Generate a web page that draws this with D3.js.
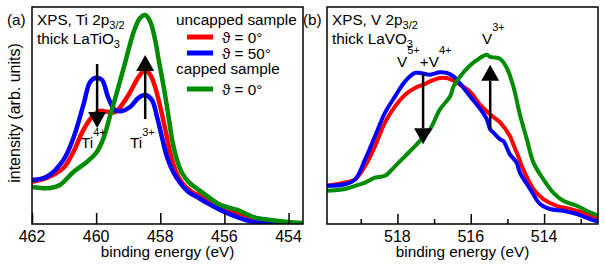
<!DOCTYPE html>
<html>
<head>
<meta charset="utf-8">
<script src="https://cdn.jsdelivr.net/npm/d3@7"></script>
<style>
  body { margin: 0; background: #fff; }
  svg text { font-family: "Liberation Sans", Arial, sans-serif; fill: #000; }
</style>
</head>
<body>
<div id="graph"></div>
<script>
// binding energy (eV), intensity (arb. units)
var tiRed = [[462.0,19.4],[461.54,21.2],[461.02,25.8],[460.71,33.2],[460.40,43.3],[460.13,49.3],[459.88,52.1],[459.62,51.6],[459.41,51.6],[459.20,54.8],[458.94,60.8],[458.68,67.7],[458.47,71.0],[458.31,68.7],[458.16,63.1],[458.00,53.9],[457.84,43.3],[457.69,32.7],[457.53,24.9],[457.32,18.9],[457.01,14.7],[456.66,12.4],[456.13,7.8],[455.60,5.1],[455.09,2.8],[454.56,1.4],[454.03,0.5],[453.56,0]];
var tiBlue = [[462.0,20.3],[461.54,21.8],[461.02,29.5],[460.71,39.6],[460.40,54.8],[460.19,65.4],[460.03,67.3],[459.82,66.4],[459.62,58.1],[459.41,52.5],[459.20,52.1],[458.94,53.9],[458.68,58.1],[458.47,59.4],[458.26,57.1],[458.10,49.3],[457.95,40.1],[457.79,30.9],[457.58,23.5],[457.38,18.9],[457.12,14.7],[456.80,12.0],[456.59,10.1],[456.13,6.5],[455.60,3.2],[455.09,0.9],[454.56,0],[453.56,0]];
var tiGreen = [[462.0,17.1],[461.44,16.6],[461.13,18.0],[460.71,24.0],[460.29,28.6],[459.98,33.2],[459.77,39.6],[459.56,50.2],[459.35,60.8],[459.09,74.7],[458.83,88.5],[458.63,94.9],[458.47,96.3],[458.31,93.1],[458.16,84.8],[458.05,75.6],[457.95,67.7],[457.84,58.5],[457.74,49.3],[457.63,38.7],[457.48,29.5],[457.32,23.5],[457.12,19.4],[456.80,15.7],[456.59,13.4],[456.13,8.8],[455.60,6.5],[455.09,3.2],[454.56,1.8],[454.03,0.9],[453.56,0.5]];

var vRed = [[519.92,17.6],[519.43,19.1],[519.15,20.6],[518.88,26.7],[518.61,35.9],[518.34,46.7],[518.06,54.3],[517.79,59.6],[517.52,62.7],[517.29,64.2],[517.11,65.7],[516.84,67.3],[516.56,66.8],[516.29,64.2],[516.02,61.0],[515.75,55.0],[515.47,50.5],[515.20,46.8],[514.93,40.4],[514.84,36.7],[514.70,31.0],[514.57,25.2],[514.29,16.1],[514.02,11.5],[513.66,8.4],[513.29,6.9],[512.84,4.6],[512.52,2.3]];
var vBlue = [[519.92,17.6],[519.43,18.3],[519.15,20.6],[518.88,29.8],[518.61,40.5],[518.34,51.2],[518.06,58.9],[517.79,65.7],[517.52,69.6],[517.38,69.6],[517.11,68.8],[516.84,69.9],[516.65,69.6],[516.47,68.0],[516.29,64.7],[516.02,58.9],[515.75,53.2],[515.56,48.2],[515.47,43.6],[515.38,42.1],[515.20,39.0],[515.11,38.2],[514.93,32.1],[514.75,28.3],[514.66,23.7],[514.38,16.1],[514.11,9.2],[513.84,6.9],[513.48,6.1],[513.11,4.6],[512.75,2.3],[512.52,1.1]];
var vGreen = [[519.92,15.3],[519.70,15.6],[519.43,16.1],[519.15,17.6],[518.88,19.1],[518.61,21.4],[518.34,22.2],[518.06,26.7],[517.79,31.3],[517.52,35.9],[517.29,40.0],[517.11,43.6],[516.84,52.8],[516.56,58.9],[516.47,63.4],[516.29,68.0],[516.02,73.0],[515.75,76.5],[515.56,78.0],[515.47,77.0],[515.38,76.8],[515.20,76.1],[515.02,72.0],[514.84,63.5],[514.66,50.5],[514.47,39.0],[514.29,28.3],[514.02,20.6],[513.75,14.5],[513.48,10.7],[513.11,8.4],[512.75,5.4],[512.52,3.8]];

var tiTicks = [462, 460, 458, 456, 454];
var vTicks = [518, 516, 514];
var vMinorTicks = [519, 517, 515, 513];

// arrows: energy, start and end intensity
var tiArrows = [{ e: 459.97, from: 73.7, to: 44.2 }, { e: 458.47, from: 48.4, to: 77.9 }];
var vArrows = [{ e: 517.30, from: 69.7, to: 36.7 }, { e: 515.47, from: 43.6, to: 73.4 }];

var legendRows = [
  { label: "\u03d1 = 0\u00b0", color: "#ff0000" },
  { label: "\u03d1 = 50\u00b0", color: "#0000ff" },
  { label: "\u03d1 = 0\u00b0", color: "#008c00" }
];

var width = 606, height = 265;
var fs = 15.3, fsSmall = 11;

var svg = d3.select("div#graph")
  .append("svg")
  .attr("width", width)
  .attr("height", height);

function panel(opt) {
  var x = d3.scaleLinear().domain(opt.domain).range([opt.left, opt.right]);
  var y = d3.scaleLinear().domain([0, 100]).range([opt.bottom, opt.top]);

  var g = svg.append("g");

  g.append("clipPath").attr("id", opt.id + "-clip")
    .append("rect")
    .attr("x", opt.left).attr("y", opt.top)
    .attr("width", opt.right - opt.left).attr("height", opt.bottom - opt.top);

  var line = d3.line()
    .x(function (d) { return x(d[0]); })
    .y(function (d) { return y(d[1]); })
    .curve(d3.curveCatmullRom.alpha(0.5));

  var curves = g.append("g").attr("clip-path", "url(#" + opt.id + "-clip)");
  opt.series.forEach(function (s) {
    curves.append("path")
      .datum(s.data)
      .attr("d", line)
      .attr("fill", "none")
      .attr("stroke", s.color)
      .attr("stroke-width", opt.lw)
      .attr("stroke-linejoin", "round");
  });

  // inward ticks
  var axis = d3.axisTop(x).tickValues(opt.ticks).tickSize(opt.tickLen).tickFormat("");
  var ax = g.append("g").attr("transform", "translate(0," + opt.bottom + ")").call(axis);
  ax.select(".domain").remove();
  ax.selectAll("line").attr("stroke", "#000").attr("stroke-width", 1.5);
  if (opt.minor) {
    var ax2 = g.append("g").attr("transform", "translate(0," + opt.bottom + ")")
      .call(d3.axisTop(x).tickValues(opt.minor).tickSize(5).tickFormat(""));
    ax2.select(".domain").remove();
    ax2.selectAll("line").attr("stroke", "#000").attr("stroke-width", 1.5);
  }

  // tick labels
  g.selectAll(".tl")
    .data(opt.ticks)
    .enter()
    .append("text")
    .attr("x", function (d) { return x(d); })
    .attr("y", opt.bottom + 18)
    .attr("text-anchor", "middle")
    .style("font-size", "16px")
    .text(function (d) { return d; });

  g.append("text")
    .attr("x", (opt.left + opt.right) / 2)
    .attr("y", 257)
    .attr("text-anchor", "middle")
    .style("font-size", fs + "px")
    .text("binding energy (eV)");

  // arrows
  opt.arrows.forEach(function (a) {
    var xa = x(a.e), y0 = y(a.from), y1 = y(a.to);
    var dir = y1 > y0 ? 1 : -1;
    var hl = 16, hw = 9;
    g.append("line")
      .attr("x1", xa).attr("x2", xa)
      .attr("y1", y0).attr("y2", y1 - dir * hl)
      .attr("stroke", "#000").attr("stroke-width", 2.5);
    g.append("path")
      .attr("d", "M" + (xa - hw) + "," + (y1 - dir * hl) + "L" + (xa + hw) + "," + (y1 - dir * hl) + "L" + xa + "," + y1 + "Z")
      .attr("fill", "#000");
  });

  // frame
  g.append("rect")
    .attr("x", opt.left).attr("y", opt.top)
    .attr("width", opt.right - opt.left).attr("height", opt.bottom - opt.top)
    .attr("fill", "none")
    .attr("stroke", "#000")
    .attr("stroke-width", 1.5);

  return g;
}

var ga = panel({
  id: "a", domain: [462, 453.55], left: 32, right: 303, top: 7, bottom: 224,
  lw: 4.5, ticks: tiTicks, tickLen: 11, arrows: tiArrows,
  series: [
    { data: tiRed, color: "#ff0000" },
    { data: tiBlue, color: "#0000ff" },
    { data: tiGreen, color: "#008c00" }
  ]
});

var gb = panel({
  id: "b", domain: [519.92, 512.53], left: 327, right: 598, top: 7, bottom: 224,
  lw: 4, ticks: vTicks, tickLen: 10, minor: vMinorTicks, arrows: vArrows,
  series: [
    { data: vRed, color: "#ff0000" },
    { data: vBlue, color: "#0000ff" },
    { data: vGreen, color: "#008c00" }
  ]
});

// text with sub/superscript pieces: [text, dy, size]
function rich(g, x, y, parts) {
  var t = g.append("text").attr("x", x).attr("y", y).style("font-size", fs + "px");
  parts.forEach(function (p) {
    t.append("tspan")
      .attr("dy", p[1])
      .style("font-size", (p[2] || fs) + "px")
      .text(p[0]);
  });
  return t;
}

// y label
svg.append("text")
  .attr("transform", "translate(20,113) rotate(-90)")
  .attr("text-anchor", "middle")
  .style("font-size", "16px")
  .text("intensity (arb. units)");

// panel letters
svg.append("text").attr("x", 7).attr("y", 25).style("font-size", fs + "px").text("(a)");
svg.append("text").attr("x", 303).attr("y", 25).style("font-size", fs + "px").text("(b)");

// panel (a) texts
rich(ga, 37, 25, [["XPS, Ti 2p", 0], ["3/2", 4, fsSmall]]);
rich(ga, 37, 44, [["thick LaTiO", 0], ["3", 4, fsSmall]]);
rich(ga, 81, 148, [["Ti", 0], ["4+", -12, fsSmall]]);
rich(ga, 130, 148, [["Ti", 0], ["3+", -12, fsSmall]]);

// legend
ga.append("text").attr("x", 176).attr("y", 25).style("font-size", fs + "px").text("uncapped sample");
ga.append("text").attr("x", 176).attr("y", 74).style("font-size", fs + "px").text("capped sample");
var legY = [37, 53, 89];
legendRows.forEach(function (r, i) {
  ga.append("line")
    .attr("x1", 187).attr("x2", 213)
    .attr("y1", legY[i]).attr("y2", legY[i])
    .attr("stroke", r.color).attr("stroke-width", 5);
  ga.append("text")
    .attr("x", 222).attr("y", legY[i] + 6)
    .style("font-size", fs + "px")
    .text(r.label);
});

// panel (b) texts
rich(gb, 332, 25, [["XPS, V 2p", 0], ["3/2", 4, fsSmall]]);
rich(gb, 332, 44, [["thick LaVO", 0], ["3", 4, fsSmall]]);
rich(gb, 397, 67, [["V", 0], ["5+", -13, fsSmall], ["+V", 13], ["4+", -13, fsSmall]]);
rich(gb, 482, 44, [["V", 0], ["3+", -13, fsSmall]]);
</script>
</body>
</html>
